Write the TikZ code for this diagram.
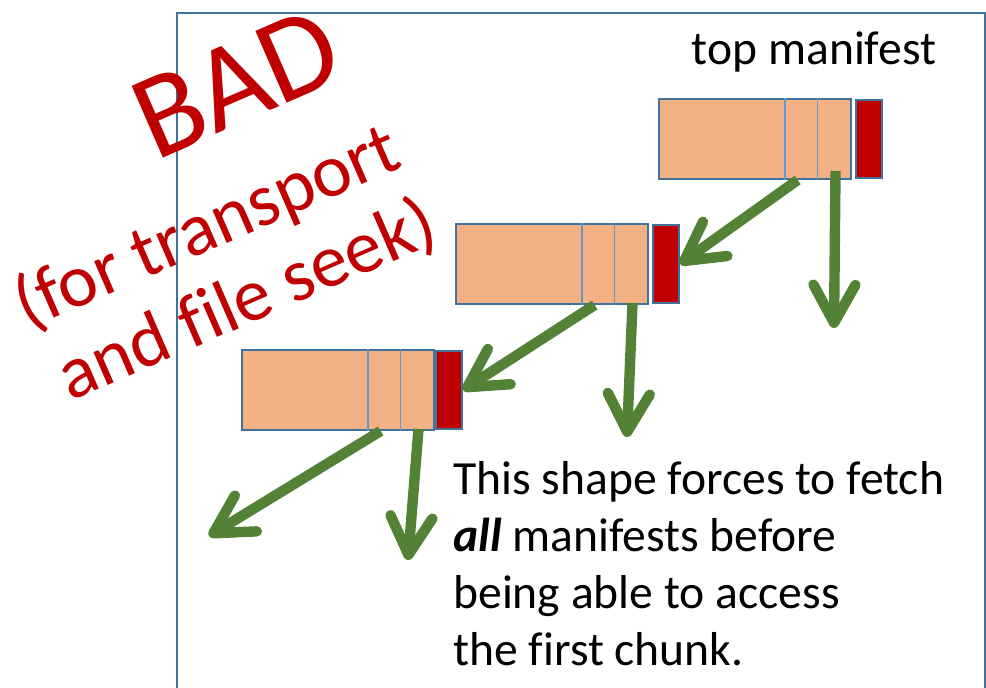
\documentclass[tikz,border=0pt]{standalone}
\usepackage{fontspec}
\setmainfont{Carlito}[Ligatures = NoCommon]
\usetikzlibrary{positioning,calc,arrows.meta}
\definecolor{chunkfill}{HTML}{F4B183}
\definecolor{chunkline}{HTML}{41719C}
\definecolor{divline}{HTML}{5B9BD5}
\definecolor{idxred}{HTML}{C00000}
\definecolor{arrowgreen}{HTML}{538135}
\tikzstyle{chunk} = [rectangle, draw = chunkline, line width = 1pt, fill = chunkfill, minimum width = 96pt, minimum height = 40pt, inner sep = 0pt]
\tikzstyle{index} = [rectangle, draw = chunkline, line width = 1pt, fill = idxred, minimum width = 13pt, minimum height = 39pt, inner sep = 0pt]
\tikzstyle{divider} = [draw = divline, line width = 0.8pt]
\tikzstyle{fetch} = [draw = arrowgreen, line width = 5.2pt, -{Straight Barb[length = 19pt, width = 21pt, round]}]
\tikzstyle{bad} = [text = idxred, rotate = 23.5, anchor = base, inner sep = 0pt]
\tikzstyle{note} = [font = \fontsize{23.8pt}{28.5pt}\selectfont, inner sep = 0pt]

\begin{document}
\begin{tikzpicture}[x = 0.5pt, y = -0.5pt]
	\useasboundingbox (0, 0) rectangle (986, 688);
	\clip (0, 0) rectangle (986, 688);
	% outer frame
	\draw [chunkline, line width = 1.4pt] (177, 13) rectangle (985, 720);
	
	% Place manifests
	\node [chunk] (m1) at (755, 139) {};
	\node [index, right = 1.5pt of m1] (x1) {};
	\node [chunk] (m2) at (552, 264) {};
	\node [index, right = 1.5pt of m2] (x2) {};
	\node [chunk] (m3) at (338, 390) {};
	\node [index, right = 0pt of m3] (x3) {};
	\foreach \m in {m1, m2, m3}
		\foreach \f in {0.656, 0.823}
			\draw [divider] ($(\m.north west)!\f!(\m.north east)$) -- ($(\m.south west)!\f!(\m.south east)$);
	
	% arrow ends
	\foreach \m in {1, 2, 3} {
		\coordinate (s\m) at ($(m\m.south west)!0.72!(m\m.south east)$);
		\coordinate (v\m) at ($(m\m.south west)!0.915!(m\m.south east)$);
	}
	\coordinate (d1) at (834, 328);
	\coordinate (d2) at (627, 437);
	\coordinate (d3) at (408, 560);
	\coordinate (out) at (209, 536);
	
	% Draw edges
	\path [fetch] (s1) -- (x2.east);
	\path [fetch] ([yshift = 4.5pt]v1) -- (d1);
	\path [fetch] (s2) -- (x3.east);
	\path [fetch] ([yshift = 1pt]v2) -- (d2);
	\path [fetch] (s3) -- (out);
	\path [fetch] ([yshift = 1pt]v3) -- (d3);
	
	% texts
	\node [note, anchor = base] (top) at (814, 65) {top manifest};
	\node [note, anchor = north west, align = left] (why) at (453, 461) {This shape forces to fetch\\\textbf{\textit{all}} manifests before\\being able to access\\the first chunk.};
	\node [bad, font = \fontsize{61pt}{61pt}\selectfont] (bad) at (252, 119) {BAD};
	\node [bad, font = \fontsize{37.5pt}{37.5pt}\selectfont] (bad1) at (216, 248) {(for transport};
	\node [bad, font = \fontsize{37.5pt}{37.5pt}\selectfont] (bad2) at (256, 321) {and file seek)};
\end{tikzpicture}
\end{document}
